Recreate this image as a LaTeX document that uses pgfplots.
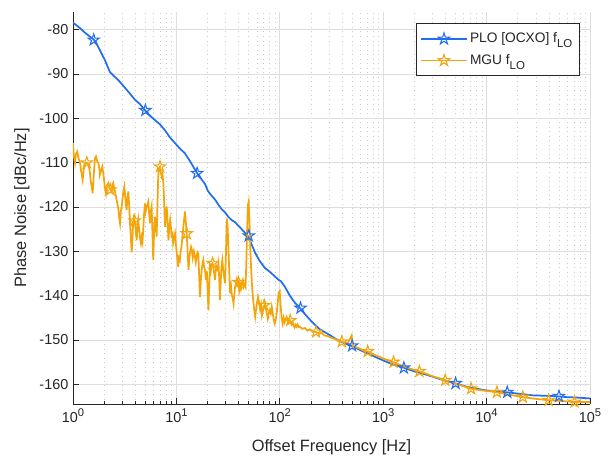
\documentclass[border=0pt]{standalone}
\usepackage{fontspec}
\setmainfont{Liberation Sans}
\usepackage{pgfplots}
\pgfplotsset{compat=1.18}
\definecolor{mblue}{RGB}{35,110,238}
\definecolor{morange}{RGB}{245,165,12}
\definecolor{axc}{RGB}{38,38,38}
\pgfdeclareplotmark{pentstar}{%
  \pgfpathmoveto{\pgfqpoint{0pt}{\pgfplotmarksize}}%
  \pgfpathlineto{\pgfqpoint{-0.2245\pgfplotmarksize}{0.309\pgfplotmarksize}}%
  \pgfpathlineto{\pgfqpoint{-0.951\pgfplotmarksize}{0.309\pgfplotmarksize}}%
  \pgfpathlineto{\pgfqpoint{-0.363\pgfplotmarksize}{-0.118\pgfplotmarksize}}%
  \pgfpathlineto{\pgfqpoint{-0.588\pgfplotmarksize}{-0.809\pgfplotmarksize}}%
  \pgfpathlineto{\pgfqpoint{0pt}{-0.382\pgfplotmarksize}}%
  \pgfpathlineto{\pgfqpoint{0.588\pgfplotmarksize}{-0.809\pgfplotmarksize}}%
  \pgfpathlineto{\pgfqpoint{0.363\pgfplotmarksize}{-0.118\pgfplotmarksize}}%
  \pgfpathlineto{\pgfqpoint{0.951\pgfplotmarksize}{0.309\pgfplotmarksize}}%
  \pgfpathlineto{\pgfqpoint{0.2245\pgfplotmarksize}{0.309\pgfplotmarksize}}%
  \pgfpathclose
  \pgfusepathqstroke
}
\newcommand\sups[1]{\raisebox{4.2pt}{\fontsize{8.4}{8.4}\selectfont #1}}
\newcommand\subs[1]{\raisebox{-3.6pt}{\fontsize{8.6}{8.6}\selectfont #1}}
\begin{document}
\begin{tikzpicture}
\path[use as bounding box] (-54.75pt,-39pt) rectangle (403.5pt,303pt);
\begin{axis}[
  scale only axis, width=387.75pt, height=294pt,
  xmode=log, xmin=1, xmax=1e5, ymin=-164.45, ymax=-76,
  axis x line*=bottom, axis y line*=left,
  axis line style={axc, line width=0.6pt},
  tick align=inside,
  major tick length=4.5pt, minor tick length=2.5pt,
  every tick/.style={axc, line width=0.5pt},
  xtick={1,10,100,1000,10000,100000},
  xticklabels={10\sups{0},10\sups{1},10\sups{2},10\sups{3},10\sups{4},10\sups{5}},
  ytick={-160,-150,-140,-130,-120,-110,-100,-90,-80},
  yticklabels={-160,-150,-140,-130,-120,-110,-100,-90,-80},
  ticklabel style={font=\fontsize{10.8}{12}\selectfont, text=axc},
  xmajorgrids, ymajorgrids, xminorgrids,
  major grid style={color=black!13, line width=0.5pt},
  minor grid style={color=black!20, dash pattern=on 0.6pt off 2.8pt, line width=0.5pt},
  xlabel={Offset Frequency [Hz]},
  ylabel={Phase Noise [dBc/Hz]},
  label style={font=\fontsize{12.3}{14}\selectfont, text=axc},
  xlabel style={at={([yshift=-36pt]axis description cs:0.5,0)}, anchor=base},
  ylabel style={at={([xshift=-38.25pt]axis description cs:0,0.5)}, anchor=center},
  legend style={at={(axis description cs:1,1)}, anchor=north east, xshift=-8pt, yshift=-8.5pt,
    draw=axc, line width=0.5pt, fill=white, font=\fontsize{10.3}{12}\selectfont, text=axc,
    inner xsep=3pt, inner ysep=5pt, row sep=3.2pt, cells={anchor=west}},
  legend image code/.code={\draw[mark repeat=2,mark phase=2,#1] plot coordinates {(0pt,0pt) (17pt,0pt) (34pt,0pt)};},
]
\addplot[mblue, line width=1.3pt, forget plot] coordinates {
(1,-78.4) (1.15,-79.5) (1.31,-80.7) (1.45,-81.5) (1.6,-82.3) (1.72,-83.5) (1.82,-84.6)
(1.93,-85.8) (2.04,-86.9) (2.15,-88.2) (2.28,-89.6) (2.45,-90.3) (2.72,-91.3) (2.95,-92.2)
(3.18,-93.1) (3.55,-94.4) (3.97,-95.8) (4.45,-96.8) (4.97,-98.2) (5.5,-99.3) (6.2,-100.4)
(6.9,-101.3) (7.76,-102.7) (8.6,-104.2) (9.7,-105.6) (10.8,-106.8) (12.1,-107.9) (13.5,-109.6)
(14.8,-111.2) (16,-112.5) (17.3,-113.6) (18.9,-114.8) (20.2,-116.4) (21.8,-117.4) (23.6,-118.3)
(25.5,-119.5) (27.4,-120.5) (29.5,-121.2) (32,-122.3) (34.4,-123.0) (36.8,-123.4) (40,-124.3)
(44,-125.3) (48,-126.3) (52,-127.8) (57.6,-130.3) (64,-132.2) (72,-133.8) (80,-134.6)
(89.8,-135.7) (97,-136.4) (103,-136.8) (112,-138.0) (125,-140.0) (140,-141.6) (157,-142.8)
(180,-144.5) (210,-146.2) (244,-147.6) (290,-148.6) (350,-149.8) (420,-150.7) (495,-151.3)
(600,-152.3) (720,-153.1) (850,-153.9) (995,-154.6) (1200,-155.4) (1560,-156.2) (2000,-157.1)
(2500,-157.7) (3020,-158.3) (4000,-159.2) (4970,-159.8) (6500,-160.6) (8000,-161.0) (10000,-161.4)
(12500,-161.6) (15600,-161.8) (20000,-162.1) (28000,-162.5) (37000,-162.6) (47000,-162.7)
(60000,-162.9) (75000,-163.0) (100000,-163.2)
};
\addplot[mblue, only marks, mark=pentstar, mark size=4.5pt, mark options={line width=0.8pt}, forget plot] coordinates {
(1.585,-82.3) (5.01,-98.2) (15.85,-112.4) (50.1,-126.5) (158.5,-142.8) (501,-151.3)
(1585,-156.3) (5012,-159.8) (15849,-161.8) (50119,-162.7)
};
\addplot[morange, line width=1.3pt, forget plot] coordinates {
(1.00,-105.6) (1.02,-108.5) (1.045,-110.1) (1.07,-108.0) (1.10,-107.5) (1.13,-109.0) (1.17,-110.0)
(1.20,-112.0) (1.24,-113.9) (1.27,-111.5) (1.31,-110.1) (1.36,-110.0) (1.41,-110.4) (1.45,-111.8)
(1.48,-113.9) (1.52,-115.5) (1.55,-116.9) (1.58,-113.5) (1.63,-109.0) (1.67,-108.6) (1.72,-109.8)
(1.76,-110.1) (1.80,-111.5) (1.82,-112.8) (1.87,-111.8) (1.92,-110.9) (1.97,-112.6) (2.04,-115.8)
(2.08,-117.0) (2.13,-115.2) (2.20,-114.6) (2.28,-116.0) (2.33,-116.3) (2.37,-116.5) (2.41,-115.0)
(2.45,-114.6) (2.52,-116.0) (2.59,-117.3) (2.67,-119.0) (2.74,-120.3) (2.80,-122.5) (2.85,-123.7)
(2.90,-121.0) (2.96,-119.9) (3.05,-117.0) (3.14,-115.4) (3.22,-118.5) (3.30,-120.7) (3.36,-118.0)
(3.43,-116.5) (3.50,-120.0) (3.56,-123.7) (3.62,-126.5) (3.69,-130.2) (3.74,-128.5) (3.80,-124.5)
(3.86,-122.4) (3.92,-122.9) (3.97,-123.3) (4.05,-125.5) (4.13,-127.5) (4.20,-124.5) (4.28,-122.9)
(4.36,-125.0) (4.45,-127.0) (4.54,-128.2) (4.62,-126.8) (4.70,-127.8) (4.78,-125.2) (4.87,-121.5)
(4.97,-119.2) (5.05,-121.0) (5.15,-120.0) (5.25,-119.5) (5.35,-118.8) (5.45,-121.5) (5.55,-123.7)
(5.65,-121.0) (5.76,-119.9) (5.86,-125.5) (5.97,-132.0) (6.08,-126.0) (6.20,-122.2) (6.32,-124.0)
(6.44,-126.7) (6.55,-120.0) (6.67,-113.1) (6.80,-111.2) (6.93,-110.9) (7.05,-112.0) (7.20,-113.1)
(7.34,-112.5) (7.48,-114.6) (7.62,-119.0) (7.76,-124.5) (7.90,-121.5) (8.06,-119.9) (8.22,-123.5)
(8.38,-127.5) (8.54,-124.5) (8.70,-122.9) (8.85,-124.5) (9.00,-127.0) (9.15,-125.5) (9.30,-128.2)
(9.50,-127.0) (9.70,-126.0) (9.90,-128.5) (10.1,-130.5) (10.4,-133.5) (10.6,-131.5) (10.8,-132.0)
(11.0,-130.0) (11.2,-129.0) (11.5,-126.0) (11.8,-123.5) (12.1,-121.0) (12.35,-123.5) (12.6,-126.0)
(12.85,-130.5) (13.1,-134.2) (13.35,-131.5) (13.6,-130.0) (13.85,-129.0) (14.1,-129.7) (14.4,-131.5)
(14.75,-130.0) (15.1,-131.2) (15.4,-132.5) (15.7,-131.0) (16.0,-130.2) (16.3,-130.5) (16.6,-135.5)
(16.9,-140.3) (17.2,-137.0) (17.5,-134.5) (17.85,-133.0) (18.2,-132.0) (18.55,-133.5) (18.9,-134.2)
(19.3,-136.5) (19.7,-134.5) (20.0,-138.0) (20.4,-143.3) (20.75,-138.0) (21.1,-133.5) (21.5,-134.5)
(21.95,-133.0) (22.4,-132.7) (22.8,-133.5) (23.2,-135.0) (23.6,-136.5) (24.0,-134.5) (24.5,-133.5)
(25.0,-134.0) (25.5,-132.7) (25.95,-136.0) (26.4,-141.0) (26.8,-137.0) (27.3,-133.5) (27.8,-132.0)
(28.3,-134.0) (28.9,-135.5) (29.5,-137.2) (30.1,-131.0) (30.7,-122.6) (31.3,-124.5) (31.9,-129.7)
(32.5,-135.0) (33.1,-139.5) (33.8,-138.0) (34.4,-140.0) (35.0,-140.5) (35.7,-141.8) (36.4,-139.5)
(37.0,-138.0) (37.7,-137.5) (38.4,-136.5) (39.1,-137.5) (39.8,-137.0) (40.5,-138.8) (41.3,-137.5)
(42.1,-138.5) (43.0,-137.2) (43.9,-136.5) (44.8,-138.0) (45.7,-137.5) (46.6,-138.0) (47.4,-133.0)
(48.3,-125.0) (49.2,-119.5) (50.0,-118.8) (50.9,-123.0) (51.8,-129.0) (52.8,-134.0) (53.8,-137.5)
(54.8,-140.0) (55.8,-142.0) (56.8,-143.5) (57.8,-144.8) (59.0,-143.0) (60.3,-141.5) (61.6,-140.3)
(63.0,-141.5) (64.4,-143.0) (65.8,-142.0) (67.2,-144.5) (68.7,-143.5) (70.2,-142.5) (71.7,-141.8)
(73.3,-143.0) (75.0,-144.0) (76.6,-145.2) (78.3,-144.0) (80.0,-143.3) (81.8,-144.0) (83.6,-142.5)
(85.5,-144.0) (87.4,-145.5) (89.4,-146.3) (91.4,-145.5) (93.4,-144.0) (95.5,-141.5) (97.6,-139.3)
(99.8,-139.0) (102,-142.5) (104.3,-145.0) (106.6,-146.3) (109,-145.0) (111.4,-146.0) (114,-145.3)
(116.5,-144.8) (119,-145.6) (121.7,-146.0) (124.4,-145.4) (127,-145.8) (130,-146.5) (133,-146.0)
(136,-146.8) (139,-147.2) (142,-146.6) (145,-147.0) (148.5,-146.5) (152,-147.1) (156,-147.0)
(165,-147.5) (175,-147.3) (185,-147.9) (195,-147.6) (207,-148.1) (224,-148.2) (240,-148.6)
(255,-148.4) (270,-149.0) (290,-149.1) (305,-149.4) (325,-149.6) (350,-149.9) (375,-150.2)
(398,-150.4) (430,-150.7) (460,-150.5) (478,-149.7) (495,-149.0) (510,-151.5) (560,-151.7)
(600,-152.0) (650,-152.4) (708,-152.6) (780,-153.1) (850,-153.5) (920,-153.8) (1000,-154.2)
(1120,-154.6) (1259,-155.0) (1400,-155.5) (1600,-156.0) (1900,-156.6) (2239,-157.1) (2600,-157.6)
(3000,-158.2) (3450,-158.6) (3981,-159.1) (4500,-159.5) (5200,-160.0) (6100,-160.5) (7079,-161.0)
(8500,-161.3) (10000,-161.5) (12589,-161.8) (17000,-162.4) (22387,-162.9) (30000,-163.3)
(39811,-163.6) (55000,-163.8) (70795,-164.0) (100000,-164.0)
};
\addplot[morange, only marks, mark=pentstar, mark size=4.5pt, mark options={line width=0.8pt}, forget plot] coordinates {
(1.36,-110.0) (2.30,-116.1) (3.95,-123.1) (6.95,-110.9) (12.6,-126.0) (22.4,-132.7) (39.8,-137.0)
(70.8,-142.2) (126,-145.6) (224,-148.2) (398,-150.4) (708,-152.6) (1259,-155.0) (2239,-157.1)
(3981,-159.1) (7079,-161.0) (12589,-161.8) (22387,-162.9) (39811,-163.6) (70795,-164.0)
};
\addlegendimage{mblue, line width=1.1pt, mark=pentstar, mark size=4.5pt, mark options={line width=0.8pt}}
\addlegendentry{PLO [OCXO] f\subs{LO}}
\addlegendimage{morange, line width=1.1pt, mark=pentstar, mark size=4.5pt, mark options={line width=0.8pt}}
\addlegendentry{MGU f\subs{LO}}
\end{axis}
\end{tikzpicture}
\end{document}
